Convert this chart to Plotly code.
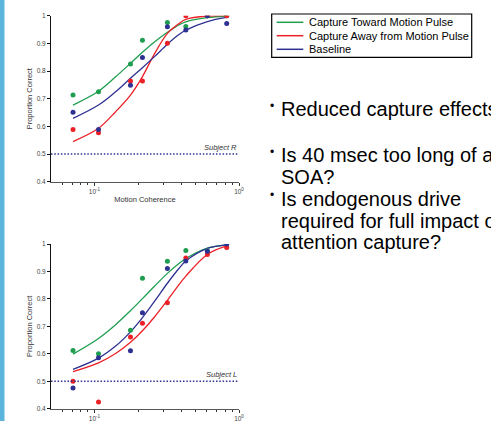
import plotly.graph_objects as go

# ---------------- data ----------------
coherence = [0.071, 0.1066, 0.1774, 0.2147, 0.3195, 0.4285, 0.604, 0.822]

# Subject R (top) observed proportions
r_toward = [0.713, 0.725, 0.825, 0.911, 0.975, 0.961, 1.0, 1.0]
r_away = [0.589, 0.577, 0.764, 0.764, 0.900, 1.0, 1.0, 1.0]
r_base = [0.651, 0.589, 0.749, 0.849, 0.960, 0.948, 1.0, 0.972]

# Subject L (bottom) observed proportions
l_toward = [0.612, 0.600, 0.686, 0.875, 0.937, 0.976, 0.975, 1.0]
l_away = [0.500, 0.424, 0.661, 0.711, 0.786, 0.949, 0.962, 0.987]
l_base = [0.475, 0.586, 0.611, 0.750, 0.911, 0.938, 0.974, 1.0]

# fitted curves
fit_x = [0.071, 0.1066, 0.14, 0.1774, 0.2147, 0.26, 0.3195, 0.38, 0.4285, 0.604, 0.822]
r_fit_toward = [0.677, 0.727, 0.779, 0.828, 0.868, 0.905, 0.940, 0.966, 0.978, 0.993, 0.999]
r_fit_away = [0.545, 0.593, 0.653, 0.713, 0.780, 0.862, 0.936, 0.970, 0.987, 0.999, 1.0]
r_fit_base = [0.629, 0.677, 0.725, 0.774, 0.812, 0.852, 0.897, 0.930, 0.948, 0.979, 0.994]
l_fit_toward = [0.599, 0.656, 0.706, 0.757, 0.801, 0.846, 0.893, 0.927, 0.947, 0.985, 0.997]
l_fit_away = [0.535, 0.567, 0.601, 0.642, 0.684, 0.734, 0.795, 0.848, 0.883, 0.962, 0.993]
l_fit_base = [0.543, 0.584, 0.628, 0.680, 0.732, 0.791, 0.857, 0.908, 0.938, 0.984, 0.997]

series_names = ["Capture Toward Motion Pulse", "Capture Away from Motion Pulse", "Baseline"]
y_ticks = [0.4, 0.5, 0.6, 0.7, 0.8, 0.9, 1]
y_tick_text = ["0.4", "0.5", "0.6", "0.7", "0.8", "0.9", "1"]
x_ticks = [0.1, 1]
x_tick_text = ["10<sup>-1</sup>", "10<sup>0</sup>"]
minor_x = [0.06, 0.07, 0.08, 0.09, 0.2, 0.3, 0.4, 0.5, 0.6, 0.7, 0.8, 0.9]
subjects = ["Subject R", "Subject L"]
bullets = [
    (True, "Reduced capture effects"),
    (True, "Is 40 msec too long of an"),
    (False, "SOA?"),
    (True, "Is endogenous drive"),
    (False, "required for full impact of"),
    (False, "attention capture?"),
]

colors = ["#1f9e50", "#ec2127", "#2e3192"]
W, H = 491, 421
FONT = "Liberation Sans, Arial, sans-serif"

fig = go.Figure()

panels = [
    ("x", "y", [r_toward, r_away, r_base], [r_fit_toward, r_fit_away, r_fit_base]),
    ("x2", "y2", [l_toward, l_away, l_base], [l_fit_toward, l_fit_away, l_fit_base]),
]
for pi, (xa, ya, obs, fits) in enumerate(panels):
    for i in range(3):
        fig.add_trace(go.Scatter(
            x=fit_x, y=fits[i], mode="lines", line=dict(color=colors[i], width=1.3, shape="spline"),
            name=series_names[i], showlegend=False, xaxis=xa, yaxis=ya))
    for i in range(3):
        fig.add_trace(go.Scatter(
            x=coherence, y=obs[i], mode="markers", marker=dict(color=colors[i], size=5),
            name=series_names[i], showlegend=False, xaxis=xa, yaxis=ya))

xdom = [51 / W, 239 / W]
top_dom = [(H - 181.7) / H, (H - 15.7) / H]
bot_dom = [(H - 408.7) / H, (H - 244) / H]

axis_font = dict(family=FONT, size=6.5, color="#444")
title_font = dict(family=FONT, size=7.5, color="#333")


def xaxis_cfg(anchor, title):
    return dict(
        type="log", range=[-1.30103, 0], domain=xdom, anchor=anchor, automargin=False,
        showline=True, linecolor="#555", linewidth=1,
        showgrid=False, zeroline=False,
        tickmode="array", tickvals=x_ticks, ticktext=x_tick_text,
        ticks="outside", ticklen=3, tickcolor="#333", tickwidth=1,
        minor=dict(tickmode="array", tickvals=minor_x, ticks="outside", ticklen=2,
                   tickcolor="#333", tickwidth=1),
        tickfont=axis_font,
        title=dict(text=title, font=title_font, standoff=3),
    )


def yaxis_cfg(dom, anchor):
    return dict(
        range=[0.4, 1.0], domain=dom, anchor=anchor, automargin=False,
        showline=True, linecolor="#111", linewidth=1,
        showgrid=False, zeroline=False,
        tickmode="array", tickvals=y_ticks, ticktext=y_tick_text,
        ticks="outside", ticklen=3, tickcolor="#111", tickwidth=1,
        tickfont=axis_font,
        title=dict(text="Proportion Correct", font=title_font, standoff=3),
    )


fig.update_layout(
    width=W, height=H, margin=dict(l=0, r=0, t=0, b=0, pad=0, autoexpand=False),
    paper_bgcolor="white", plot_bgcolor="white",
    xaxis=xaxis_cfg("y", "Motion Coherence"),
    yaxis=yaxis_cfg(top_dom, "x"),
    xaxis2=xaxis_cfg("y2", ""),
    yaxis2=yaxis_cfg(bot_dom, "x2"),
    showlegend=False,
)

# left accent strip
shapes = [
    dict(type="rect", xref="paper", yref="paper", x0=0, x1=4.5 / W, y0=0, y1=1,
         fillcolor="#5ab4dc", line=dict(width=0), layer="below"),
]
# chance lines
for xr, yr in [("x domain", "y"), ("x2 domain", "y2")]:
    shapes.append(dict(type="line", xref=xr, yref=yr, x0=0, x1=1, y0=0.5, y1=0.5,
                       line=dict(color="#2e3192", width=1.5, dash="1.5px,1.8px")))

annotations = []

# manual legend box
lx0, lx1, ly0, ly1 = 271.7, 471.7, 14, 57.3
shapes.append(dict(type="rect", xref="paper", yref="paper",
                   x0=lx0 / W, x1=lx1 / W, y0=1 - ly1 / H, y1=1 - ly0 / H,
                   line=dict(color="black", width=1.2), fillcolor="white"))
leg_y = [22.3, 35.7, 49.3]
for i in range(3):
    yy = 1 - leg_y[i] / H
    shapes.append(dict(type="line", xref="paper", yref="paper",
                       x0=276.7 / W, x1=303.3 / W, y0=yy, y1=yy,
                       line=dict(color=colors[i], width=1.5)))
    annotations.append(dict(text=series_names[i], xref="paper", yref="paper",
                            x=306.5 / W, y=yy, xanchor="left", yanchor="middle",
                            showarrow=False, font=dict(family=FONT, size=11, color="black")))
fig.update_layout(shapes=shapes)

for s, (xr, yr) in zip(subjects, [("x", "y"), ("x2", "y2")]):
    annotations.append(dict(
        text="<i>" + s + "</i>", xref=xr, yref=yr, x=0, y=0.5, xanchor="right", yanchor="bottom",
        showarrow=False, font=dict(family=FONT, size=7.5, color="#333")))

line_y = [109, 155, 176.7, 198.8, 220.5, 241.7]
for (has_b, t), yy in zip(bullets, line_y):
    if has_b:
        annotations.append(dict(text="•", xref="paper", yref="paper", x=268 / W, y=1 - (yy - 3.5) / H,
                                xanchor="left", yanchor="middle", showarrow=False,
                                font=dict(family=FONT, size=12, color="black")))
    annotations.append(dict(text=t, xref="paper", yref="paper", x=279 / W, y=1 - yy / H,
                            xanchor="left", yanchor="middle", showarrow=False,
                            font=dict(family=FONT, size=20, color="black")))
fig.update_layout(annotations=annotations)

fig.write_html(
    "out.html",
    config={"displayModeBar": False},
    post_script="document.body.style.margin='0';document.body.style.overflow='hidden';",
)
